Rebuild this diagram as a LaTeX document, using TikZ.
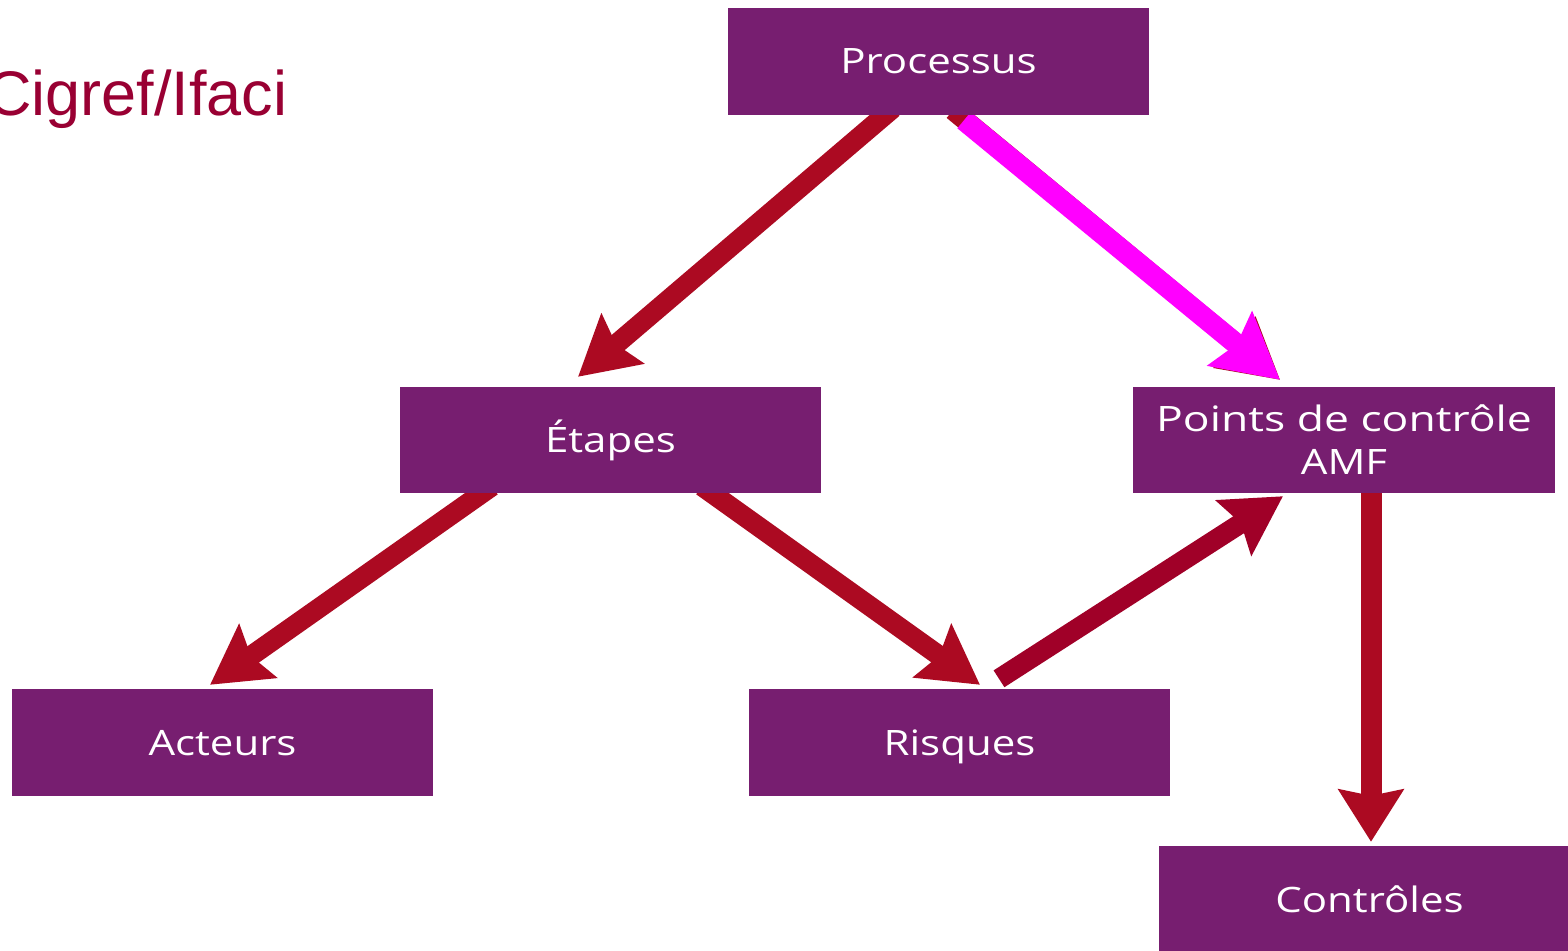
\documentclass[tikz,border=0pt]{standalone}
\usepackage{fontspec}
\setmainfont{Open Sans}
\newfontfamily\titlefont{Liberation Sans}
\usetikzlibrary{arrows.meta}

\definecolor{boxpurple}{HTML}{771E70}
\definecolor{arrowred}{HTML}{AC0A22}
\definecolor{arrowdark}{HTML}{A00028}
\definecolor{arrowmag}{HTML}{FF00FF}
\definecolor{titlered}{HTML}{990033}

% widened box lettering
\newcommand\boxtext[2][1.2]{\scalebox{#1}[1]{#2}}

\tikzset{
  x=1pt, y=-1pt,
  stage/.style={fill=boxpurple, text=white, minimum width=421pt, minimum height=107pt,
    inner sep=0pt, font=\fontsize{35}{43}\selectfont, align=center},
  oneline/.style={text height=25pt, text depth=0pt},
  flow/.style={draw=arrowred, line width=20pt,
    -{Stealth[length=58pt, width=64pt, inset=8pt]}},
  flowdark/.style={flow, draw=arrowdark},
  flowmag/.style={draw=arrowmag, line width=21pt,
    -{Stealth[length=64pt, width=68pt, inset=8pt]}},
}

\begin{document}
\begin{tikzpicture}
\clip (0,0) rectangle (1568,950);
\fill[white] (0,0) rectangle (1568,950);

% title
\node[anchor=base west, inner sep=0pt, text=titlered,
      font=\titlefont\fontsize{63}{70}\selectfont] (title) at (-14,115) {Cigref/Ifaci};

% box outlines first, so the arrows can be placed from their anchors
\node[stage, fill=none] (proc) at (938.5,61.5) {};
\node[stage, minimum height=106pt, fill=none] (etap) at (610.5,440) {};
\node[stage, minimum width=422pt, minimum height=106pt, fill=none] (pts) at (1344,440) {};
\node[stage, fill=none] (act) at (222.5,742.5) {};
\node[stage, fill=none] (risq) at (959.5,742.5) {};
\node[stage, fill=none] (ctrl) at (1369.5,899.5) {};

% connectors
\draw[flow] ([xshift=-45.5pt, yshift=7pt]proc.south) -- ([xshift=-32.5pt, yshift=10pt]etap.north);
\draw[flow] ([xshift=14.5pt, yshift=5pt]proc.south) -- ([xshift=-64pt, yshift=7pt]pts.north);
\draw[flowmag] ([xshift=25.5pt, yshift=-5pt]proc.south) -- ([xshift=-64pt, yshift=7pt]pts.north);
\draw[flow] ([xshift=-118.5pt, yshift=7pt]etap.south) -- ([xshift=-12.5pt, yshift=4pt]act.north);
\draw[flow] ([xshift=91.5pt, yshift=7pt]etap.south) -- ([xshift=20.5pt, yshift=4pt]risq.north);
\draw[flowdark] ([xshift=39.5pt, yshift=10pt]risq.north) -- ([xshift=-61pt, yshift=-3pt]pts.south);
\draw[flow, line width=21pt, -{Stealth[length=52pt, width=64pt, inset=6pt]}]
  ([xshift=27pt, yshift=7pt]pts.south) -- ([xshift=1.5pt, yshift=4pt]ctrl.north);

% filled boxes with their labels
\node[stage, oneline] at (proc) {\boxtext{Processus}};
\node[stage, oneline, minimum height=106pt] at (etap) {\boxtext{Étapes}};
\node[stage, minimum width=422pt, minimum height=106pt] at (pts)
  {\boxtext[1.27]{Points de contrôle}\\\boxtext{AMF}};
\node[stage, oneline] at (act) {\boxtext{Acteurs}};
\node[stage, oneline] at (risq) {\boxtext{Risques}};
\node[stage, oneline] at (ctrl) {\boxtext{Contrôles}};
\end{tikzpicture}
\end{document}
